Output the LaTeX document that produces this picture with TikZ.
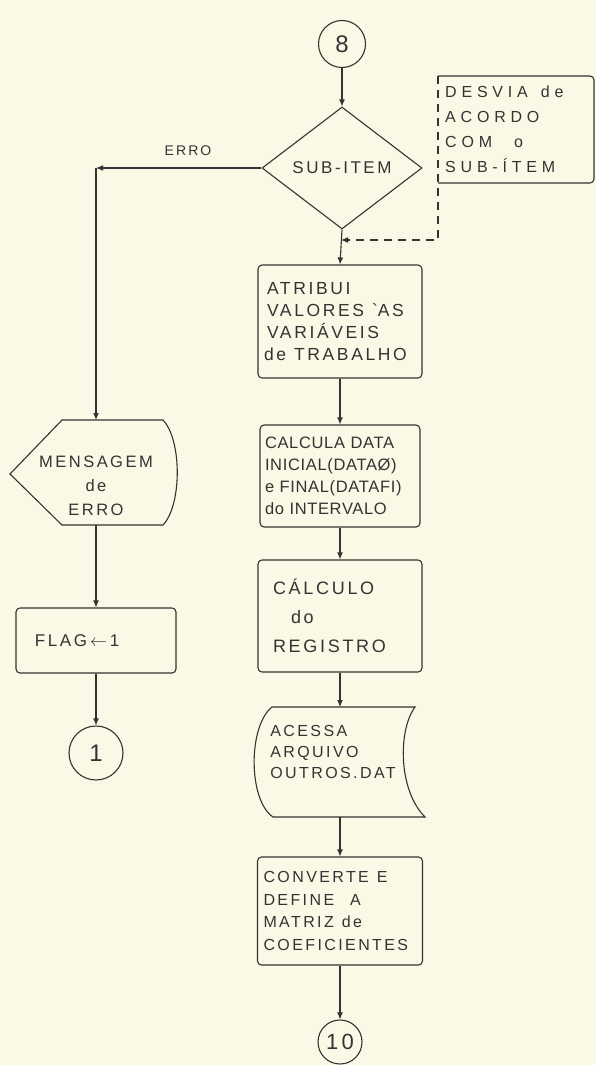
\documentclass[tikz,border=0pt]{standalone}
\usepackage{fontspec}
\setmainfont{Liberation Sans}[LetterSpace=15]
\newfontfamily\handwide{Liberation Sans}[LetterSpace=30]
\newfontfamily\handtight{Liberation Sans}[LetterSpace=4]
\usetikzlibrary{arrows.meta,shapes.geometric}
\definecolor{paper}{HTML}{FBF9E6}
\definecolor{ink}{HTML}{333333}
% wider gap between hand-lettered words
\newcommand\wgap{\hspace{8pt}}
\begin{document}
\begin{tikzpicture}[x=1pt,y=-1pt,
  line/.style={draw=ink,line width=1.1pt},
  arr/.style={line,-{Latex[length=7pt,width=6pt]}},
  txt/.style={text=ink,font=\fontsize{17}{22}\selectfont},
  proc/.style={line,txt,rounded corners=4pt,inner xsep=7pt,inner ysep=0pt,align=left},
  conn/.style={line,txt,circle,inner sep=0pt,font=\fontsize{24}{24}\selectfont},
  free/.style={txt,inner sep=0pt,align=left}
]
% page and background
\fill[paper] (0,0) rectangle (596,1065);
\useasboundingbox (0,0) rectangle (596,1065);

% ---- main column ----
\node[conn,minimum size=47pt] (c8) at (342,44) {8};
\node[line,txt,diamond,inner sep=0pt,minimum width=160pt,minimum height=122pt] (dec) at (342,168) {SUB-ITEM};

\node[proc,text width=152pt,minimum height=113pt,inner xsep=6pt,font=\fontsize{17.5}{22}\selectfont] (atr) at (340,321.5)
  {\hspace*{3pt}ATRIBUI\\\hspace*{3pt}VALORES\wgap\textasciigrave AS\\\hspace*{3pt}VARIÁVEIS\\de\wgap TRABALHO};
\node[proc,text width=150pt,minimum height=102pt,inner xsep=5pt,font=\handtight\fontsize{16.5}{22}\selectfont] (cal) at (340,476)
  {CALCULA DATA\\INICIAL(DATAØ)\\e FINAL(DATAFI)\\do INTERVALO};
\node[proc,text width=134pt,minimum height=112pt,inner xsep=15pt,font=\fontsize{18}{29}\selectfont] (reg) at (340,616)
  {CÁLCULO\\\hspace*{18pt}do\\REGISTRO};

% stored data (file access)
\coordinate (accN) at (340,707);
\coordinate (accS) at (340,817);
\draw[line] (272,707) -- (415,707)
  .. controls (398,730) and (398,790) .. (425,817) -- (273,817)
  .. controls (248,800) and (248,726) .. cycle;
\node[free,font=\fontsize{16}{21}\selectfont] (acc) at (333,752) {ACESSA\\ARQUIVO\\OUTROS.DAT};

\node[proc,text width=153pt,minimum height=108pt,inner xsep=6pt,font=\fontsize{16}{22.5}\selectfont] (conv) at (340,911)
  {CONVERTE\wgap E\\DEFINE\wgap\wgap A\\MATRIZ\wgap de\\COEFICIENTES};
\node[conn,minimum size=44pt,font=\fontsize{22}{22}\selectfont] (c10) at (340,1042) {10};

% ---- annotation ----
\draw[line,rounded corners=4pt] (438,76) -- (594,76) -- (594,183) -- (438,183);
\node[free,anchor=north west,font=\handwide\fontsize{16}{25}\selectfont] (note) at (445,86)
  {DESVIA\hspace{13pt}de\\ACORDO\\COM\hspace{22pt}o\\SUB-ÍTEM};
\coordinate (noteNW) at (438,76);
\coordinate (dashend) at (341,240);

% ---- error branch ----
\coordinate (ecorner) at (96,168);
\coordinate (msgN) at (96,420);
\coordinate (msgS) at (96,525);
\draw[line] (62,420) -- (163,420)
  .. controls (182,440) and (182,505) .. (163,525) -- (62,525) -- (10,474) -- cycle;
\node[free,align=center,font=\fontsize{16.5}{24}\selectfont] (msg) at (96,486) {MENSAGEM\\de\\ERRO};
\node[proc,text width=146pt,minimum height=65pt] (flag) at (96,640.5) {\hspace*{12pt}FLAG\,$\leftarrow$\,1};
\node[conn,minimum size=54pt] (c1) at (96,753) {1};
\node[free,font=\fontsize{14}{14}\selectfont] (erro) at (188,151) {ERRO};

% ---- connectors ----
\draw[arr] (c8) -- (dec.north);
\draw[arr] (dec.south) -- (atr.north);
\draw[arr] (atr.south) -- (cal.north);
\draw[arr] (cal.south) -- (reg.north);
\draw[arr] (reg.south) -- (accN);
\draw[arr] (accS) -- (conv.north);
\draw[arr] (conv.south) -- (c10.north);
\draw[arr,dashed,dash pattern=on 8pt off 6pt] (noteNW) |- (dashend);
\draw[arr] (dec.west) -- (ecorner);
\draw[arr] (ecorner) -- (msgN);
\draw[arr] (msgS) -- (flag.north);
\draw[arr] (flag.south) -- (c1.north);
\end{tikzpicture}
\end{document}
